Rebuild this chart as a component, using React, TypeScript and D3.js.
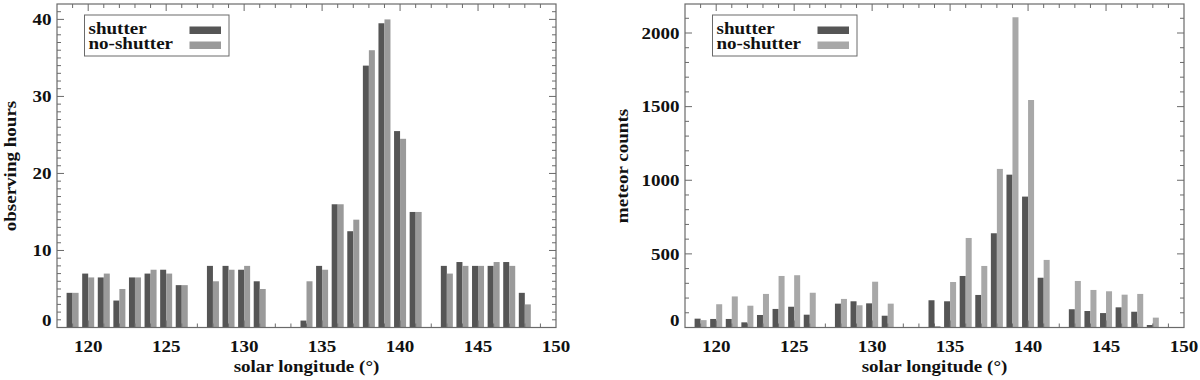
import React from "react";
import * as d3 from "d3";

// ---------- data ----------
const longitudes = [119, 120, 121, 122, 123, 124, 125, 126, 128, 129, 130, 131, 134, 135, 136, 137, 138, 139, 140, 141, 143, 144, 145, 146, 147, 148];
const hoursShutter = [4.5, 7.0, 6.5, 3.5, 6.5, 7.0, 7.5, 5.5, 8.0, 8.0, 7.5, 6.0, 0.9, 8.0, 16.0, 12.5, 34.0, 39.5, 25.5, 15.0, 8.0, 8.5, 8.0, 8.0, 8.5, 4.5];
const hoursNoShutter = [4.5, 6.5, 7.0, 5.0, 6.5, 7.5, 7.0, 5.5, 6.0, 7.5, 8.0, 5.0, 6.0, 7.5, 16.0, 14.0, 36.0, 40.0, 24.5, 15.0, 7.0, 8.0, 8.0, 8.5, 8.0, 3.0];
const countsShutter = [60, 58, 58, 35, 85, 126, 141, 87, 162, 178, 164, 80, 185, 178, 350, 221, 640, 1038, 889, 338, 124, 112, 98, 137, 107, 17];
const countsNoShutter = [50, 158, 211, 148, 228, 350, 355, 236, 194, 151, 311, 162, 10, 309, 608, 418, 1077, 2107, 1545, 459, 316, 255, 246, 223, 228, 67];
const xTicks = [120, 125, 130, 135, 140, 145, 150];
const hoursTicks = [0, 10, 20, 30, 40];
const countsTicks = [0, 500, 1000, 1500, 2000];
const legendLabels = ["shutter", "no-shutter"];

// ---------- style ----------
const FONT = "Liberation Serif";
const AXIS = "#6a6a6a";
const DARK = "#555555";
const TOP = 4;
const BOTTOM = 327.5;
const BAR_W = 0.385;
const SX = 1.12;

function SText({ x, y, anchor, children, rotate = 0, size = 17 }: any) {
  return (
    <g transform={`translate(${x},${y}) rotate(${rotate}) scale(${SX},1)`}>
      <text x={0} y={0} textAnchor={anchor} fontFamily={FONT} fontWeight="bold" fontSize={size} fill="#111">
        {children}
      </text>
    </g>
  );
}

function Panel({ left, right, yMax, yTicks, minorStep, shutter, noShutter, light, yTitle, titleX }: any) {
  const x = d3.scaleLinear().domain([118, 150]).range([left, right]);
  const y = d3.scaleLinear().domain([0, yMax]).range([BOTTOM, TOP]);
  const xMinor = d3.range(119, 150, 1);
  const yMinor = d3.range(minorStep, yMax, minorStep).filter((v) => !yTicks.includes(v));
  const unit = x(119) - x(118);
  const lx = left + 27.5;
  return (
    <g>
      {/* bars */}
      {longitudes.map((L, i) => (
        <g key={L}>
          <rect x={x(L - BAR_W)} y={y(shutter[i])} width={unit * BAR_W} height={BOTTOM - y(shutter[i])} fill={DARK} />
          <rect x={x(L)} y={y(noShutter[i])} width={unit * BAR_W} height={BOTTOM - y(noShutter[i])} fill={light} />
        </g>
      ))}
      {/* frame */}
      <rect x={left} y={TOP} width={right - left} height={BOTTOM - TOP} fill="none" stroke={AXIS} strokeWidth={1.2} />
      {/* x ticks */}
      {xMinor.map((v) => {
        const len = v % 5 === 0 ? 7 : 4;
        return (
          <g key={"xt" + v}>
            <line x1={x(v)} x2={x(v)} y1={BOTTOM} y2={BOTTOM - len} stroke={AXIS} strokeWidth={1} />
            <line x1={x(v)} x2={x(v)} y1={TOP} y2={TOP + len} stroke={AXIS} strokeWidth={1} />
          </g>
        );
      })}
      {/* y ticks */}
      {yTicks.concat(yMinor).map((v: number) => {
        const len = yTicks.includes(v) ? 7 : 4;
        return (
          <g key={"yt" + v}>
            <line x1={left} x2={left + len} y1={y(v)} y2={y(v)} stroke={AXIS} strokeWidth={1} />
            <line x1={right} x2={right - len} y1={y(v)} y2={y(v)} stroke={AXIS} strokeWidth={1} />
          </g>
        );
      })}
      {/* tick labels */}
      {xTicks.map((v) => (
        <SText key={"xl" + v} x={x(v)} y={351.5} anchor="middle">{v}</SText>
      ))}
      {yTicks.map((v: number) => (
        <SText key={"yl" + v} x={left - 5.5} y={y(v) + 5.8 - (v === 0 ? 7 : 0)} anchor="end">{v}</SText>
      ))}
      {/* titles */}
      <SText x={(left + right) / 2} y={371.5} anchor="middle">solar longitude (°)</SText>
      <SText x={titleX} y={166} anchor="middle" rotate={-90}>{yTitle}</SText>
      {/* legend */}
      <rect x={lx} y={15} width={144.5} height={41} fill="white" stroke={AXIS} strokeWidth={1} />
      <SText x={lx + 4} y={33.5} anchor="start">{legendLabels[0]}</SText>
      <SText x={lx + 4} y={49} anchor="start">{legendLabels[1]}</SText>
      <rect x={lx + 105} y={26.5} width={31.5} height={7.5} fill={DARK} />
      <rect x={lx + 105} y={41.5} width={31.5} height={7.5} fill={light} />
    </g>
  );
}

export default function App() {
  return (
    <div style={{ position: "fixed", left: 0, top: 0, width: 1200, height: 380, background: "white" }}>
      <svg width={1200} height={380} viewBox="0 0 1200 380">
        <rect width={1200} height={380} fill="white" />
        <Panel left={57} right={556} yMax={42} yTicks={hoursTicks} minorStep={1}
          shutter={hoursShutter} noShutter={hoursNoShutter} light="#9a9a9a"
          yTitle="observing hours" titleX={16} />
        <Panel left={685} right={1184} yMax={2197} yTicks={countsTicks} minorStep={100}
          shutter={countsShutter} noShutter={countsNoShutter} light="#a8a8a8"
          yTitle="meteor counts" titleX={628} />
      </svg>
    </div>
  );
}
